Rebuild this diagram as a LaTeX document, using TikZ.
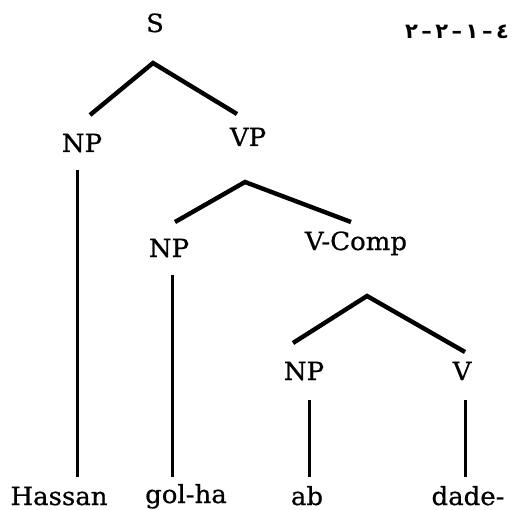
\documentclass[tikz,border=0pt]{standalone}
\usepackage{fontspec}
\setmainfont{DejaVu Serif}[FakeStretch=1.04,FakeBold=0.6]
\newfontfamily\arabicfont[Script=Arabic]{DejaVu Sans Bold}
\begin{document}
\begin{tikzpicture}[x=1bp,y=-1bp,
  lab/.style={inner sep=0pt,anchor=base,font=\fontsize{25bp}{29bp}\selectfont},
  thickedge/.style={line width=4.4bp},
  stem/.style={line width=3bp}]
\useasboundingbox (0,0) rectangle (516,510);
% labels
\node[lab] (S) at (155,32) {S};
\node[lab] (NPa) at (82,152) {NP};
\node[lab] (VP) at (248,146) {VP};
\node[lab] (NPb) at (169,257) {NP};
\node[lab] (VC) at (356,250) {V-Comp};
\node[lab] (NPc) at (304,380) {NP};
\node[lab] (V) at (462,380) {V};
\node[lab] (Hassan) at (59,505) {Hassan};
\node[lab] (golha) at (186,503) {gol-ha};
\node[lab] (ab) at (307,505) {ab};
\node[lab] (dade) at (468,505) {dade-};
\node[inner sep=0pt,anchor=base,font=\arabicfont\fontsize{21bp}{25bp}\selectfont] (num) at (457,39) {۲\,–\,۲\,–\,۱\,–\,٤};
% junction coordinates
\coordinate (Sj) at (153,63);
\coordinate (Sl) at (90,115);
\coordinate (Sr) at (237,114);
\coordinate (VPj) at (245,182);
\coordinate (VPl) at (175,222);
\coordinate (VPr) at (351,222);
\coordinate (VCj) at (367,296);
\coordinate (VCl) at (293,343);
\coordinate (VCr) at (465,352);
\coordinate (NPat) at (77,170);
\coordinate (NPab) at (77,477);
\coordinate (NPbt) at (172,275);
\coordinate (NPbb) at (172,477);
\coordinate (NPct) at (309,400);
\coordinate (NPcb) at (309,477);
\coordinate (Vt) at (465,400);
\coordinate (Vb) at (465,477);
% edges
\draw[thickedge] (Sl) -- (Sj) -- (Sr);
\draw[thickedge] (VPl) -- (VPj) -- (VPr);
\draw[thickedge] (VCl) -- (VCj) -- (VCr);
\draw[stem] (NPat) -- (NPab);
\draw[stem] (NPbt) -- (NPbb);
\draw[stem] (NPct) -- (NPcb);
\draw[stem] (Vt) -- (Vb);
\end{tikzpicture}
\end{document}
